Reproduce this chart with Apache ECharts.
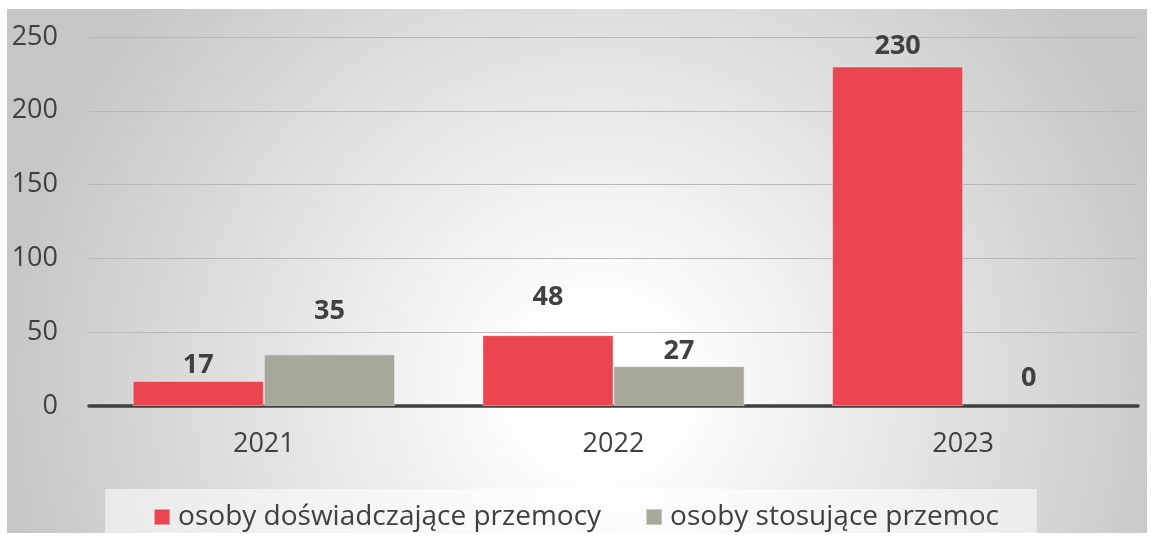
<!DOCTYPE html>
<html>
<head>
<meta charset="utf-8">
<script src="https://cdn.jsdelivr.net/npm/echarts@6/dist/echarts.min.js"></script>
<style>
  html, body { margin: 0; padding: 0; background: #fff; }
  #main { width: 1152px; height: 543px; }
</style>
</head>
<body>
<div id="main"></div>
<script>
const years = ['2021', '2022', '2023'];
const victims = [17, 48, 230];
const perpetrators = [35, 27, 0];
const seriesNames = ['osoby doświadczające przemocy', 'osoby stosujące przemoc'];

// label gaps above bars, as excel placed them
const victimLabelGap = [2, 24, 7];
const perpLabelGap = [30, 1, 14];

const font = '"Open Sans", "Noto Sans", sans-serif';
const textColor = '#404040';

let chart = echarts.init(document.getElementById('main'));

function withLabels(values, gaps) {
    return values.map(function (v, i) {
        let item = { value: v, label: { distance: gaps[i] } };
        // a zero bar should leave no sliver on the axis
        if (v === 0) item.itemStyle = { borderWidth: 0, color: 'rgba(0,0,0,0)' };
        return item;
    });
}

let option = {
    animation: false,
    graphic: [{
        type: 'rect',
        z: -10,
        silent: true,
        shape: { x: 7, y: 9, width: 1140, height: 524 },
        style: {
            fill: {
                type: 'radial', x: 0.52, y: 0.72, r: 1.15,
                colorStops: [
                    { offset: 0, color: '#ffffff' },
                    { offset: 0.12, color: '#ffffff' },
                    { offset: 1, color: '#c6c6c6' }
                ]
            }
        }
    }],
    grid: { left: 89, right: 14, top: 37, bottom: 137 },
    legend: {
        left: 'center',
        top: 489,
        padding: [14, 38, 6, 48],
        backgroundColor: 'rgba(255,255,255,0.55)',
        itemWidth: 16,
        itemHeight: 16,
        itemGap: 44,
        icon: 'rect',
        textStyle: { fontFamily: font, fontSize: 28, color: textColor, padding: [0, 0, 0, 3] },
        data: seriesNames
    },
    xAxis: {
        type: 'category',
        data: years,
        axisTick: { show: false },
        axisLine: { lineStyle: { color: '#404040', width: 3.5 } },
        axisLabel: { fontFamily: font, fontSize: 27, color: textColor, margin: 25 }
    },
    yAxis: {
        type: 'value',
        min: 0,
        max: 250,
        interval: 50,
        axisLine: { show: false },
        axisTick: { show: false },
        splitLine: { lineStyle: { color: '#b8b8b8', width: 1 } },
        axisLabel: { fontFamily: font, fontSize: 27, color: textColor, margin: 31 }
    },
    series: [
        {
            name: seriesNames[0],
            type: 'bar',
            barGap: '0%',
            barCategoryGap: '25%',
            data: withLabels(victims, victimLabelGap),
            itemStyle: { color: '#EB4650', borderColor: 'rgba(255,255,255,0.4)', borderWidth: 1 },
            label: {
                show: true, position: 'top',
                fontFamily: font, fontSize: 27, fontWeight: 'bold', color: textColor
            }
        },
        {
            name: seriesNames[1],
            type: 'bar',
            barGap: '0%',
            barCategoryGap: '25%',
            data: withLabels(perpetrators, perpLabelGap),
            itemStyle: { color: '#A8A89A', borderColor: 'rgba(255,255,255,0.4)', borderWidth: 1 },
            label: {
                show: true, position: 'top',
                fontFamily: font, fontSize: 27, fontWeight: 'bold', color: textColor
            }
        }
    ]
};

chart.setOption(option);
</script>
</body>
</html>
